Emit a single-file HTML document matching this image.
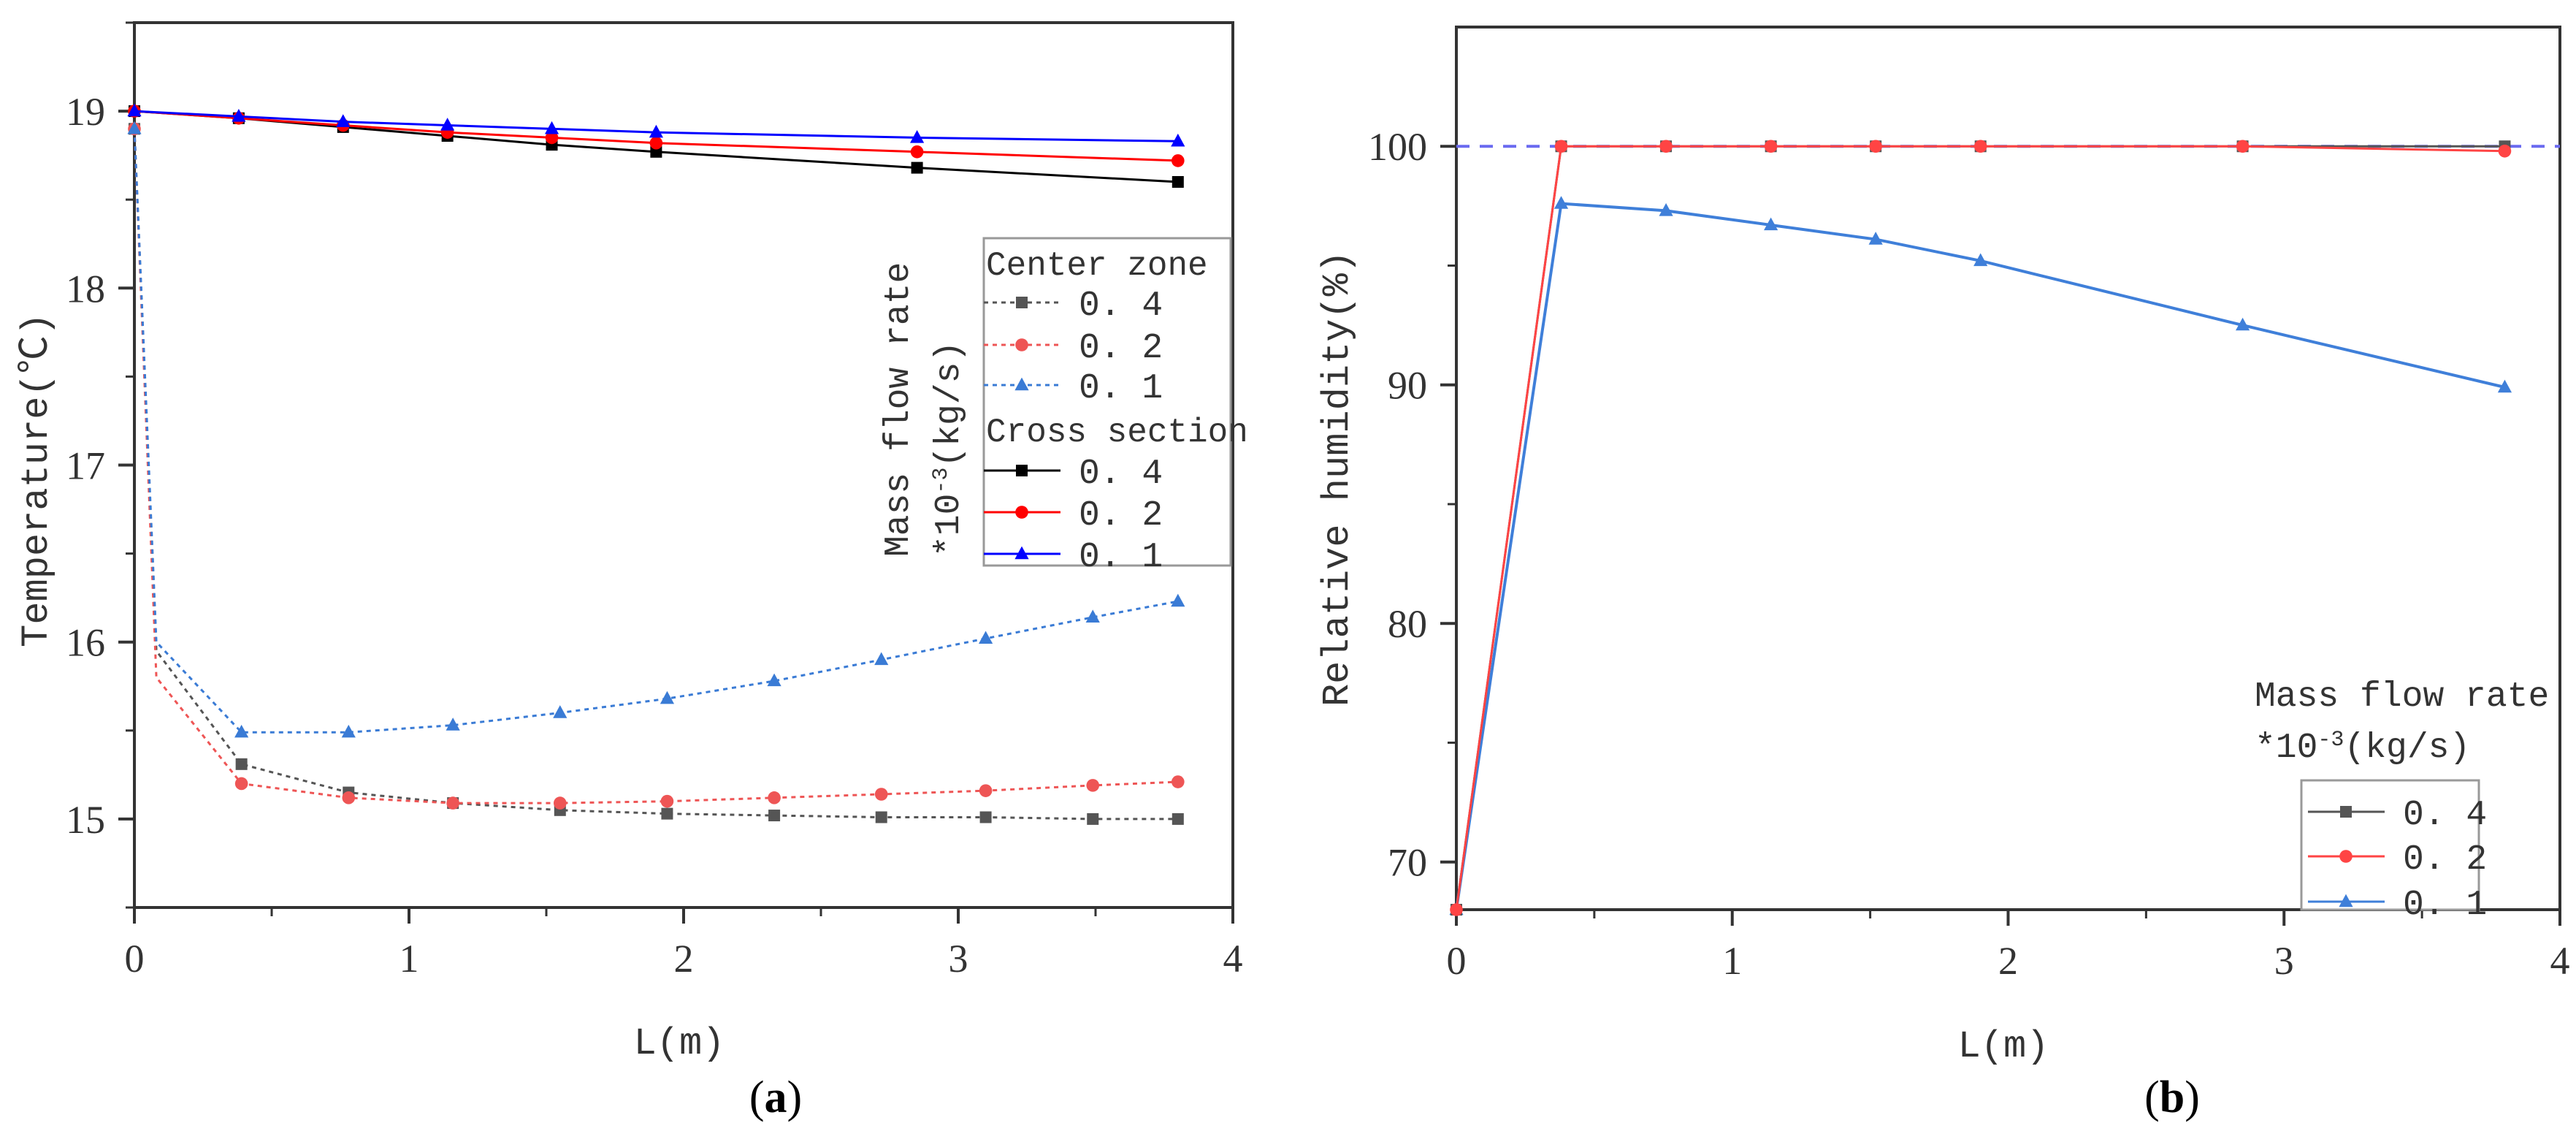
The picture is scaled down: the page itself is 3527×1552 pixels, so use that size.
<!DOCTYPE html>
<html><head><meta charset="utf-8">
<style>
html,body{margin:0;padding:0;background:#fff;}
svg{display:block;}
text{font-family:"Liberation Mono","Noto Sans CJK SC",monospace;fill:#333;}
.tick{font-family:"Liberation Serif",serif;font-size:54px;fill:#333;}
</style></head>
<body>
<svg id="chart" width="3527" height="1552" viewBox="0 0 3527 1552" xmlns="http://www.w3.org/2000/svg">
<g id="pa"></g>
<g id="pb"></g>
</svg>
<script>
// ---- Panel (a) data ----
const xCross = [0, 0.38, 0.76, 1.14, 1.52, 1.9, 2.85, 3.8];
const crossT04 = [19, 18.96, 18.91, 18.86, 18.81, 18.77, 18.68, 18.6];
const crossT02 = [19, 18.96, 18.92, 18.88, 18.85, 18.82, 18.77, 18.72];
const crossT01 = [19, 18.97, 18.94, 18.92, 18.9, 18.88, 18.85, 18.83];
const xCenter = [0, 0.08, 0.39, 0.78, 1.16, 1.55, 1.94, 2.33, 2.72, 3.1, 3.49, 3.8];
const centerT04 = [18.9, 15.95, 15.31, 15.15, 15.09, 15.05, 15.03, 15.02, 15.01, 15.01, 15.0, 15.0];
const centerT02 = [18.9, 15.8, 15.2, 15.12, 15.09, 15.09, 15.1, 15.12, 15.14, 15.16, 15.19, 15.21];
const centerT01 = [18.9, 16.0, 15.49, 15.49, 15.53, 15.6, 15.68, 15.78, 15.9, 16.02, 16.14, 16.23];
const centerMarkerSkip = [1];
const xTicksA = [0, 1, 2, 3, 4];
const yTicksA = [15, 16, 17, 18, 19];
// ---- Panel (b) data ----
const xRH = [0, 0.38, 0.76, 1.14, 1.52, 1.9, 2.85, 3.8];
const rh04 = [68, 100, 100, 100, 100, 100, 100, 100];
const rh02 = [68, 100, 100, 100, 100, 100, 100, 99.8];
const rh01 = [68, 97.6, 97.3, 96.7, 96.1, 95.2, 92.5, 89.9];
const rhRef = [100];
const xTicksB = [0, 1, 2, 3, 4];
const yTicksB = [70, 80, 90, 100];

const NS = "http://www.w3.org/2000/svg";
function mk(parent, tag, attrs, txt) {
  const e = document.createElementNS(NS, tag);
  for (const k in attrs) e.setAttribute(k, attrs[k]);
  if (txt !== undefined) e.textContent = txt;
  parent.appendChild(e);
  return e;
}
function marker(g, shape, x, y, color, s) {
  let m;
  if (shape === 'sq') m = mk(g, 'rect', {x: x - s, y: y - s, width: 2 * s, height: 2 * s, fill: color});
  else if (shape === 'ci') m = mk(g, 'circle', {cx: x, cy: y, r: s * 1.1, fill: color});
  else m = mk(g, 'polygon', {points: `${x},${y - s * 1.3} ${x - s * 1.2},${y + s * 0.9} ${x + s * 1.2},${y + s * 0.9}`, fill: color});
  
  
  return m;
}
function axes(g, P) {
  const sx = v => P.x0 + (v - P.xmin) / (P.xmax - P.xmin) * (P.x1 - P.x0);
  const sy = v => P.y1 - (v - P.ymin) / (P.ymax - P.ymin) * (P.y1 - P.y0);
  const fr = mk(g, 'rect', {x: P.x0, y: P.y0, width: P.x1 - P.x0, height: P.y1 - P.y0, fill: 'none', stroke: '#333', 'stroke-width': 4});
  
  
  P.xt.forEach(v => {
    const t = mk(g, 'line', {x1: sx(v), x2: sx(v), y1: P.y1, y2: P.y1 + 22, stroke: '#333', 'stroke-width': 4});
    
    
    const l = mk(g, 'text', {x: sx(v), y: P.y1 + 88, 'text-anchor': 'middle', class: 'tick'}, String(v));
    
    
    if (v < P.xmax) {
      const mt = mk(g, 'line', {x1: sx(v + 0.5), x2: sx(v + 0.5), y1: P.y1, y2: P.y1 + 12, stroke: '#333', 'stroke-width': 3});
      
      
    }
  });
  P.yt.forEach(v => {
    const t = mk(g, 'line', {x1: P.x0 - 22, x2: P.x0, y1: sy(v), y2: sy(v), stroke: '#333', 'stroke-width': 4});
    
    
    const l = mk(g, 'text', {x: P.x0 - 40, y: sy(v) + 19, 'text-anchor': 'end', class: 'tick'}, String(v));
    
    
  });
  P.ym.forEach(v => {
    const mt = mk(g, 'line', {x1: P.x0 - 12, x2: P.x0, y1: sy(v), y2: sy(v), stroke: '#333', 'stroke-width': 3});
    
    
  });
  return {sx, sy};
}
function series(g, S, xs, ys, color, dash, shape, skip, name, w) {
  const pts = xs.map((x, i) => S.sx(x) + ',' + S.sy(ys[i])).join(' ');
  const p = mk(g, 'polyline', {points: pts, fill: 'none', stroke: color, 'stroke-width': w || 3, 'stroke-dasharray': dash || 'none'});
  
  
  xs.forEach((x, i) => { if (!(skip || []).includes(i)) marker(g, shape, S.sx(x), S.sy(ys[i]), color, 8); });
}
function legendRow(g, x, y, color, dash, shape, label, name) {
  const r = mk(g, 'g', {});
  
  
  mk(r, 'line', {x1: x, x2: x + 105, y1: y, y2: y, stroke: color, 'stroke-width': 3, 'stroke-dasharray': dash || 'none'});
  marker(r, shape, x + 52, y, color, 8);
  mk(r, 'text', {x: x + 130, y: y + 17, 'font-size': 48}, label);
}

// ---- Panel A ----
const ga = document.getElementById('pa');
const A = axes(ga, {x0: 184, x1: 1688, y0: 31, y1: 1242, xmin: 0, xmax: 4, ymin: 14.5, ymax: 19.5, xt: xTicksA, yt: yTicksA, ym: [14.5, 15.5, 16.5, 17.5, 18.5, 19.5]});
series(ga, A, xCenter, centerT04, '#555', '6 6', 'sq', centerMarkerSkip, 'center-0.4-line');
series(ga, A, xCenter, centerT02, '#ee5555', '6 6', 'ci', centerMarkerSkip, 'center-0.2-line');
series(ga, A, xCenter, centerT01, '#3a7bd5', '6 6', 'tri', centerMarkerSkip, 'center-0.1-line');
series(ga, A, xCross, crossT04, '#000', null, 'sq', [], 'cross-0.4-line');
series(ga, A, xCross, crossT02, '#ff0000', null, 'ci', [], 'cross-0.2-line');
series(ga, A, xCross, crossT01, '#0000ff', null, 'tri', [], 'cross-0.1-line');
let t;
t = mk(ga, 'text', {transform: 'translate(64,657) rotate(-90)', 'text-anchor': 'middle', 'font-size': 52}, 'Temperature(℃)');


t = mk(ga, 'text', {x: 930, y: 1442, 'text-anchor': 'middle', 'font-size': 52}, 'L(m)');


t = mk(ga, 'text', {x: 1062, y: 1522, 'text-anchor': 'middle', 'font-size': 62, 'font-weight': 'bold', style: 'font-family:"Liberation Serif",serif;fill:#000'}, '');


t.innerHTML = '<tspan font-weight="normal">(</tspan>a<tspan font-weight="normal">)</tspan>';
const la = mk(ga, 'g', {});


mk(la, 'rect', {x: 1347, y: 326, width: 338, height: 448, fill: '#fff', stroke: '#999', 'stroke-width': 3});
mk(la, 'text', {x: 1350, y: 376, 'font-size': 46}, 'Center zone');
legendRow(la, 1347, 414, '#555', '6 6', 'sq', '0. 4', 'legend-center-0.4');
legendRow(la, 1347, 472, '#ee5555', '6 6', 'ci', '0. 2', 'legend-center-0.2');
legendRow(la, 1347, 527, '#3a7bd5', '6 6', 'tri', '0. 1', 'legend-center-0.1');
mk(la, 'text', {x: 1350, y: 604, 'font-size': 46}, 'Cross section');
legendRow(la, 1347, 644, '#000', null, 'sq', '0. 4', 'legend-cross-0.4');
legendRow(la, 1347, 701, '#ff0000', null, 'ci', '0. 2', 'legend-cross-0.2');
legendRow(la, 1347, 758, '#0000ff', null, 'tri', '0. 1', 'legend-cross-0.1');
t = mk(la, 'text', {transform: 'translate(1243,762) rotate(-90)', 'font-size': 48}, 'Mass flow rate');


t = mk(la, 'text', {transform: 'translate(1312,762) rotate(-90)', 'font-size': 48}, '');
t.innerHTML = '*10<tspan dy="-16" font-size="30">-3</tspan><tspan dy="16">(kg/s)</tspan>';



// ---- Panel B ----
const gb = document.getElementById('pb');
const B = axes(gb, {x0: 1994, x1: 3505, y0: 37, y1: 1245, xmin: 0, xmax: 4, ymin: 68, ymax: 105, xt: xTicksB, yt: yTicksB, ym: [75, 85, 95]});
rhRef.forEach(v => {
  const l = mk(gb, 'line', {x1: 1994, x2: 3505, y1: B.sy(v), y2: B.sy(v), stroke: '#6a6af0', 'stroke-width': 4, 'stroke-dasharray': '18 14'});
  
  
});
series(gb, B, xRH, rh01, '#3f7fd9', null, 'tri', [], 'rh-0.1-line', 4);
series(gb, B, xRH, rh04, '#555', null, 'sq', [], 'rh-0.4-line');
series(gb, B, xRH, rh02, '#ff4444', null, 'ci', [], 'rh-0.2-line');
t = mk(gb, 'text', {transform: 'translate(1845,655) rotate(-90)', 'text-anchor': 'middle', 'font-size': 52}, 'Relative humidity(%)');


t = mk(gb, 'text', {x: 2743, y: 1446, 'text-anchor': 'middle', 'font-size': 52}, 'L(m)');


t = mk(gb, 'text', {x: 2974, y: 1522, 'text-anchor': 'middle', 'font-size': 62, 'font-weight': 'bold', style: 'font-family:"Liberation Serif",serif;fill:#000'}, '');
t.innerHTML = '<tspan font-weight="normal">(</tspan>b<tspan font-weight="normal">)</tspan>';


const lb = mk(gb, 'g', {});


mk(lb, 'text', {x: 3087, y: 966, 'font-size': 48}, 'Mass flow rate');
t = mk(lb, 'text', {x: 3087, y: 1036, 'font-size': 48}, '');
t.innerHTML = '*10<tspan dy="-16" font-size="30">-3</tspan><tspan dy="16">(kg/s)</tspan>';
mk(lb, 'rect', {x: 3151, y: 1068, width: 243, height: 177, fill: '#fff', stroke: '#999', 'stroke-width': 3});
legendRow(lb, 3160, 1111, '#555', null, 'sq', '0. 4', 'legend-b-0.4');
legendRow(lb, 3160, 1172, '#ff4444', null, 'ci', '0. 2', 'legend-b-0.2');
legendRow(lb, 3160, 1234, '#3f7fd9', null, 'tri', '0. 1', 'legend-b-0.1');
</script>
</body></html>
